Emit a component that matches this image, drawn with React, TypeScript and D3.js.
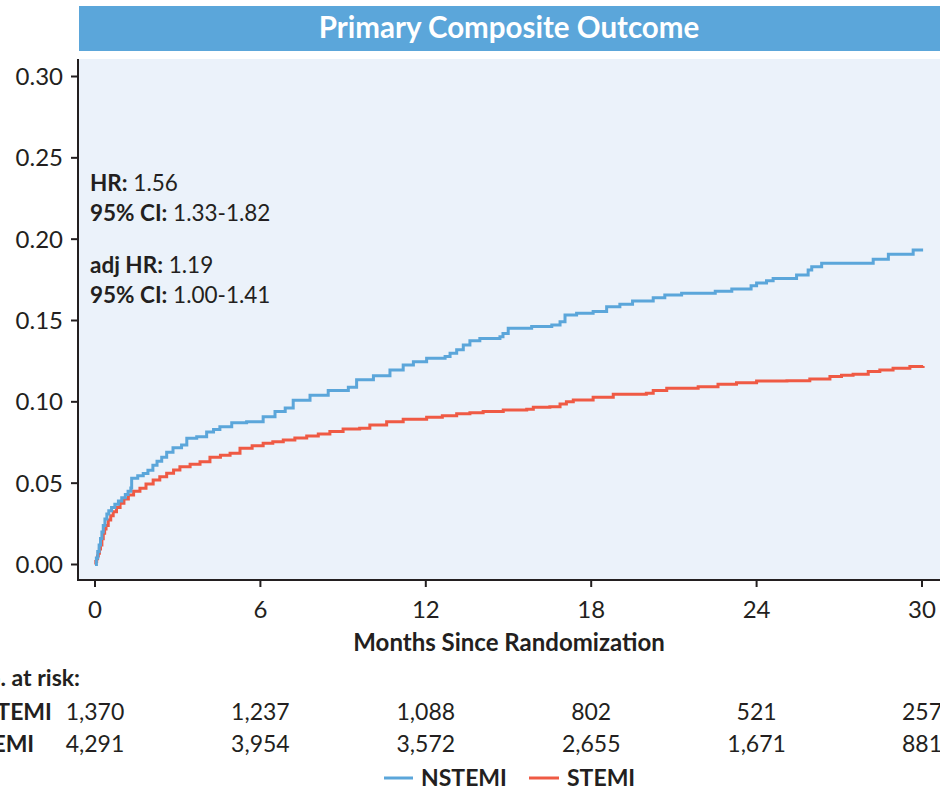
import React from "react";
import * as d3 from "d3";

const nstemiMonths = [0, 0.05, 0.1, 0.15, 0.2, 0.25, 0.3, 0.36, 0.43, 0.5, 0.6, 0.72, 0.85, 0.97, 1.1, 1.2, 1.3, 1.33, 1.55, 1.75, 1.92, 2.1, 2.25, 2.42, 2.6, 2.83, 3.14, 3.33, 3.69, 4.05, 4.3, 4.53, 4.96, 5.5, 6.1, 6.53, 6.9, 7.19, 7.8, 8.46, 9.19, 9.49, 10.1, 10.7, 11.18, 11.55, 12.03, 12.7, 12.88, 13.12, 13.36, 13.6, 13.96, 14.69, 14.8, 14.99, 15.84, 16.57, 16.87, 17.05, 17.47, 18.07, 18.56, 19.04, 19.5, 20.25, 20.67, 21.28, 22.5, 23.1, 23.8, 24.0, 24.36, 24.6, 25.45, 25.87, 26.0, 26.36, 28.23, 28.78, 29.68, 30.04];
const nstemiRisk = [0, 0.004, 0.008, 0.012, 0.016, 0.02, 0.024, 0.028, 0.031, 0.033, 0.035, 0.037, 0.039, 0.041, 0.043, 0.045, 0.047, 0.053, 0.0545, 0.056, 0.058, 0.061, 0.0635, 0.066, 0.069, 0.0717, 0.0735, 0.0776, 0.0786, 0.0815, 0.083, 0.0847, 0.0872, 0.0878, 0.0909, 0.094, 0.0962, 0.101, 0.104, 0.107, 0.109, 0.1135, 0.116, 0.1196, 0.1227, 0.1247, 0.1268, 0.1278, 0.1299, 0.132, 0.135, 0.1376, 0.139, 0.14, 0.142, 0.1453, 0.1463, 0.1473, 0.1493, 0.1534, 0.1545, 0.1555, 0.1585, 0.16, 0.162, 0.164, 0.1657, 0.1668, 0.168, 0.1694, 0.1713, 0.173, 0.1744, 0.1758, 0.1779, 0.1811, 0.1831, 0.1852, 0.1877, 0.1907, 0.1934, 0.1934];

const stemiMonths = [0, 0.03, 0.06, 0.09, 0.12, 0.16, 0.2, 0.25, 0.3, 0.35, 0.4, 0.48, 0.57, 0.66, 0.78, 0.91, 1.05, 1.21, 1.4, 1.63, 1.85, 2.11, 2.35, 2.6, 2.85, 3.08, 3.45, 3.81, 4.17, 4.55, 4.9, 5.26, 5.7, 6.1, 6.45, 6.83, 7.25, 7.68, 8.1, 8.52, 9.0, 9.6, 9.97, 10.58, 11.18, 12.03, 12.6, 13.12, 13.6, 14.08, 14.81, 15.66, 15.9, 16.5, 16.87, 17.1, 17.35, 18.07, 18.8, 20.0, 20.25, 20.74, 21.88, 22.6, 23.27, 24.0, 25.1, 25.93, 26.66, 27.08, 27.5, 28.05, 28.47, 28.95, 29.56, 30.04];
const stemiRisk = [0, 0.0018, 0.0035, 0.0052, 0.0069, 0.0095, 0.012, 0.0158, 0.0192, 0.0218, 0.024, 0.0274, 0.03, 0.0325, 0.035, 0.0376, 0.0402, 0.0427, 0.045, 0.0469, 0.0495, 0.052, 0.054, 0.0561, 0.0581, 0.0601, 0.0617, 0.0632, 0.0659, 0.0672, 0.0684, 0.0715, 0.073, 0.0745, 0.0755, 0.0766, 0.0778, 0.079, 0.0803, 0.0817, 0.0833, 0.0838, 0.0858, 0.0878, 0.0893, 0.0905, 0.0915, 0.0926, 0.0933, 0.094, 0.095, 0.0954, 0.0967, 0.097, 0.0987, 0.1, 0.1012, 0.1028, 0.1047, 0.1053, 0.1069, 0.1083, 0.1093, 0.1108, 0.1118, 0.1128, 0.113, 0.1141, 0.1155, 0.1163, 0.117, 0.1186, 0.1196, 0.1207, 0.1217, 0.1221];

const xTicks = [0, 6, 12, 18, 24, 30];
const yTicks = [0, 0.05, 0.1, 0.15, 0.2, 0.25, 0.3];
const nstemiAtRisk = ["1,370", "1,237", "1,088", "802", "521", "257"];
const stemiAtRisk = ["4,291", "3,954", "3,572", "2,655", "1,671", "881"];
const seriesNames = ["NSTEMI", "STEMI"];
const title = "Primary Composite Outcome";

const BLUE = "#5ba6da";
const RED = "#ef5a44";
const INK = "#231f20";
const FONT = "Lato, 'Open Sans', sans-serif";

export default function App() {
  const x = d3.scaleLinear().domain([0, 30]).range([95, 922]);
  const y = d3.scaleLinear().domain([0, 0.3]).range([564.5, 76.5]);
  const line = d3
    .line<[number, number]>()
    .x((d) => x(d[0]))
    .y((d) => y(d[1]))
    .curve(d3.curveStepAfter);
  const nData = nstemiMonths.map((m, i) => [m, nstemiRisk[i]] as [number, number]);
  const sData = stemiMonths.map((m, i) => [m, stemiRisk[i]] as [number, number]);

  return (
    <svg
      width={940}
      height={793}
      style={{ position: "absolute", left: 0, top: 0, background: "#fff" }}
      fontFamily={FONT}
    >
      <rect x={79} y={6} width={861} height={45} fill={BLUE} />
      <text x={509} y={38} textAnchor="middle" fill="#fff" fontSize={29.5} fontWeight={700}>
        {title}
      </text>
      <rect x={79} y={59} width={861} height={521} fill="#ebf2fa" />

      {/* axes */}
      <line x1={78} x2={78} y1={59} y2={581} stroke={INK} strokeWidth={2} />
      <line x1={77} x2={940} y1={580} y2={580} stroke={INK} strokeWidth={2} />
      {yTicks.map((t) => (
        <g key={t}>
          <line x1={71} x2={78} y1={y(t)} y2={y(t)} stroke={INK} strokeWidth={2} />
          <text x={63} y={y(t) + 8.5} textAnchor="end" fontSize={24} fill={INK}>
            {d3.format(".2f")(t)}
          </text>
        </g>
      ))}
      {xTicks.map((t) => (
        <g key={t}>
          <line x1={x(t)} x2={x(t)} y1={580} y2={587} stroke={INK} strokeWidth={2} />
          <text x={x(t)} y={618} textAnchor="middle" fontSize={24} fill={INK}>
            {t}
          </text>
        </g>
      ))}
      <text x={509} y={651} textAnchor="middle" fontSize={24} fontWeight={700} fill={INK}>
        Months Since Randomization
      </text>

      {/* annotations */}
      <g fontSize={22.5} fill={INK}>
        <text x={90} y={191}>
          <tspan fontWeight={700}>HR:</tspan> 1.56
        </text>
        <text x={90} y={221}>
          <tspan fontWeight={700}>95% CI:</tspan> 1.33-1.82
        </text>
        <text x={90} y={273}>
          <tspan fontWeight={700}>adj HR:</tspan> 1.19
        </text>
        <text x={90} y={303}>
          <tspan fontWeight={700}>95% CI:</tspan> 1.00-1.41
        </text>
      </g>

      {/* curves */}
      <path d={line(sData) || ""} fill="none" stroke={RED} strokeWidth={3} />
      <path d={line(nData) || ""} fill="none" stroke={BLUE} strokeWidth={3} />

      {/* at risk table */}
      <g fontSize={23} fill={INK}>
        <text x={80} y={686} fontWeight={700} textAnchor="end">
          No. at risk:
        </text>
        <text x={-34} y={720} fontWeight={700}>
          {seriesNames[0]}
        </text>
        <text x={-34} y={752} fontWeight={700}>
          {seriesNames[1]}
        </text>
        {nstemiAtRisk.map((v, i) => (
          <text key={"n" + i} x={x(xTicks[i])} y={720} textAnchor="middle">
            {v}
          </text>
        ))}
        {stemiAtRisk.map((v, i) => (
          <text key={"s" + i} x={x(xTicks[i])} y={752} textAnchor="middle">
            {v}
          </text>
        ))}
      </g>

      {/* legend */}
      <g fontSize={23} fontWeight={700} fill={INK}>
        <line x1={384} x2={413} y1={778} y2={778} stroke={BLUE} strokeWidth={3} />
        <text x={421} y={786}>{seriesNames[0]}</text>
        <line x1={529} x2={559} y1={778} y2={778} stroke={RED} strokeWidth={3} />
        <text x={567} y={786}>{seriesNames[1]}</text>
      </g>
    </svg>
  );
}
